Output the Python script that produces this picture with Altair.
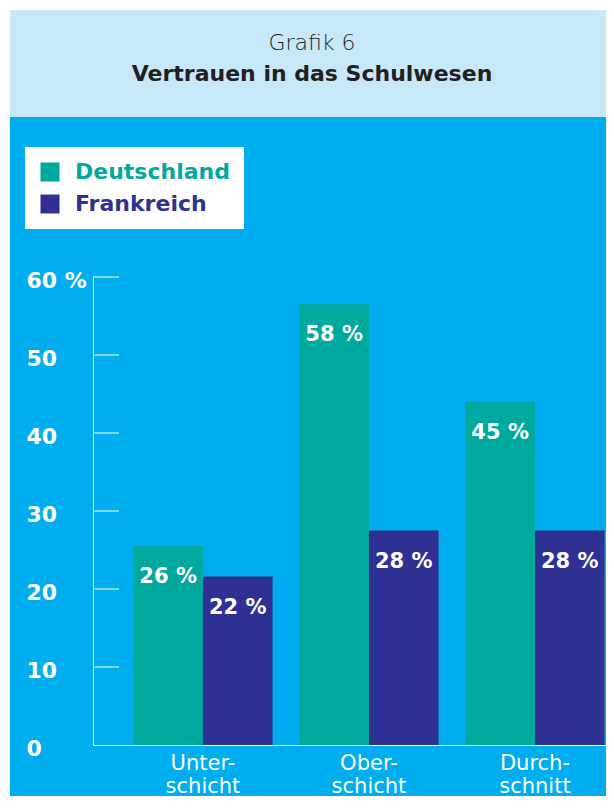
import altair as alt
import pandas as pd

# ---- data ----
categories = ["Unter-|schicht", "Ober-|schicht", "Durch-|schnitt"]
series = ["Deutschland", "Frankreich"]
deutschland = [25.5, 56.5, 44.0]
frankreich = [21.6, 27.5, 27.5]
deutschland_labels = ["26 %", "58 %", "45 %"]
frankreich_labels = ["22 %", "28 %", "28 %"]
y_ticks = [0, 10, 20, 30, 40, 50, 60]
colors = ["#00a99d", "#2e3192"]
title_line1 = "Grafik 6"
title_line2 = "Vertrauen in das Schulwesen"

rows = []
for i, c in enumerate(categories):
    rows.append(dict(cat=c, series=series[0], value=deutschland[i], label=deutschland_labels[i]))
    rows.append(dict(cat=c, series=series[1], value=frankreich[i], label=frankreich_labels[i]))
df = pd.DataFrame(rows)
ticks_df = pd.DataFrame({"value": y_ticks[1:]})

FONT = "DejaVu Sans"
BLUE = "#00aeef"
HEADER = "#c7e8f8"
DARK = "#231f20"
CW, CH = 598, 788
PL, PT = 85, 269
W, H = CW - PL, 468

x = alt.X(
    "cat:N", sort=categories,
    scale=alt.Scale(paddingInner=0.161, paddingOuter=0.1257, align=0.966),
    axis=alt.Axis(title=None, ticks=False, domainColor="white", domainWidth=1, zindex=1,
                  labelColor="white", labelFont=FONT, labelFontSize=21, labelFontWeight="normal",
                  labelAngle=0, labelPadding=7, labelLineHeight=23,
                  labelExpr="split(datum.label, '|')", labelBaseline="top"),
)
xo = alt.XOffset("series:N", sort=series, scale=alt.Scale(paddingInner=0, paddingOuter=0))
y = alt.Y(
    "value:Q",
    scale=alt.Scale(domain=[0, 60], nice=False, zero=True),
    axis=alt.Axis(title=None, values=y_ticks, ticks=False, grid=False, zindex=1,
                  domainColor="white", domainWidth=1,
                  labelAlign="left", labelPadding=67, labelBaseline="middle", labelOffset=3,
                  labelColor="white", labelFont=FONT, labelFontSize=22, labelFontWeight="bold",
                  labelFlush=False, labelOverlap=False,
                  labelExpr="datum.value == 60 ? '60 %' : datum.label"),
)
color = alt.Color(
    "series:N", sort=series,
    scale=alt.Scale(domain=series, range=colors),
    legend=alt.Legend(orient="none", legendX=-68, legendY=-130, title=None,
                      fillColor="white", padding=14, symbolType="square", symbolSize=361,
                      symbolStrokeWidth=0, labelFont=FONT, labelFontSize=22,
                      labelFontWeight="bold", labelOffset=14, rowPadding=10, labelLimit=400,
                      direction="vertical",
                      labelColor={"expr": "datum.value === 'Deutschland' ? '#00a99d' : '#2e3192'"}),
)

one = alt.Data(values=[{}])
panel = alt.Chart(one).mark_rect(color=BLUE).encode(
    x=alt.value(-PL + 2), x2=alt.value(CW - PL), y=alt.value(-PT + 2), y2=alt.value(CH - PT)
)
header = alt.Chart(one).mark_rect(color=HEADER).encode(
    x=alt.value(-PL + 2), x2=alt.value(CW - PL), y=alt.value(-PT + 2), y2=alt.value(109 - PT)
)
t1 = alt.Chart(one).mark_text(text=title_line1, font=FONT, fontSize=22, fontWeight=200,
                              color=DARK, align="center", baseline="alphabetic").encode(
    x=alt.value(219), y=alt.value(-227.5))
t2 = alt.Chart(one).mark_text(text=title_line2, font=FONT, fontSize=22, fontWeight="bold",
                              color=DARK, align="center", baseline="alphabetic").encode(
    x=alt.value(219), y=alt.value(-196))

tick_rules = alt.Chart(ticks_df).mark_rule(color="white", strokeWidth=1).encode(
    y=alt.Y("value:Q"), x=alt.value(0), x2=alt.value(26))

bars = alt.Chart(df).mark_bar().encode(x=x, xOffset=xo, y=y, color=color)
labels = alt.Chart(df).mark_text(dy=31, color="white", font=FONT, fontSize=21,
                                 fontWeight="bold", baseline="middle", align="center").encode(
    x=x, xOffset=xo, y=y, text="label:N")

chart = alt.layer(panel, header, t1, t2, bars, tick_rules, labels).properties(
    width=W, height=H,
    autosize=alt.AutoSizeParams(type="none"),
    padding={"left": PL, "top": PT, "right": CW - PL - W, "bottom": CH - PT - H},
    background="white",
).configure_view(stroke=None)

chart.save("out.html", embed_options={"renderer": "svg", "actions": False})
